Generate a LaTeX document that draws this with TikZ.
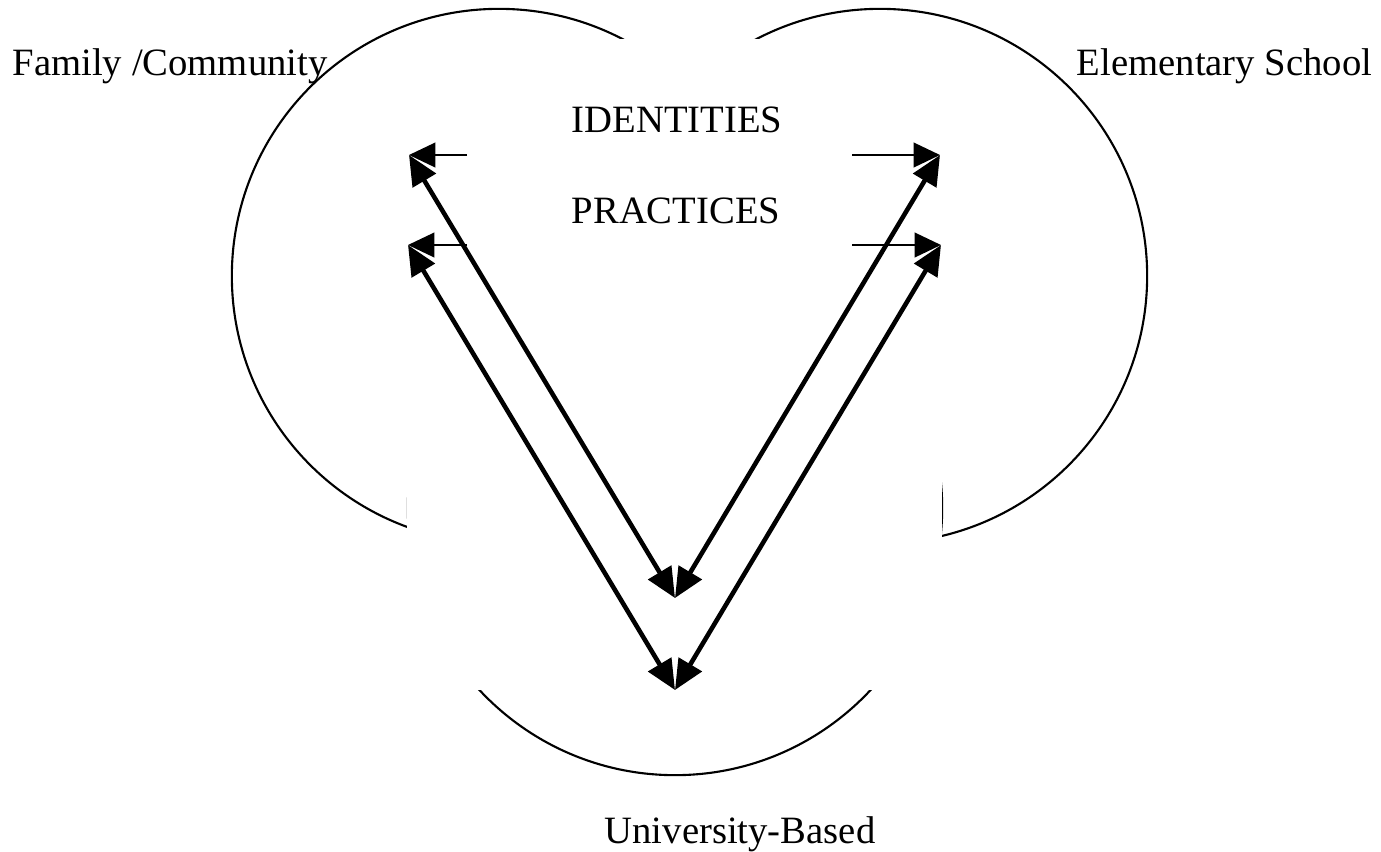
\documentclass[tikz,border=0pt]{standalone}
\usepackage{fontspec}
\setmainfont{Liberation Serif}
\usetikzlibrary{arrows.meta}

\begin{document}
\begin{tikzpicture}[x=0.01cm,y=-0.01cm,
	ring/.style={draw,line width=0.6pt},
	link/.style={line width=1.3pt,{Triangle[length=8.5pt,width=7.5pt]}-{Triangle[length=8.5pt,width=7.5pt]}},
	pointer/.style={line width=0.6pt,-{Triangle[length=7.5pt,width=7pt]}},
	txt/.style={inner sep=0pt,font=\fontsize{11}{13}\selectfont}]
			\useasboundingbox (0,0) rectangle (1381,851);
			% the three settings
			\path[ring] (499,276) circle[radius=2.67cm];
			\path[ring] (880,276) circle[radius=2.67cm];
			\path[ring] (675,508) circle[radius=2.67cm];
			\fill[white] (407,39) rectangle (942,690);
			% labels
			\node[txt,anchor=base west] (fam) at (12,75) {Family /Community};
			\node[txt,anchor=base east] (sch) at (1373,75) {Elementary School};
			\node[txt,anchor=base] (uni) at (740,843) {University-Based};
			\node[txt,anchor=base] (ident) at (677,132) {IDENTITIES};
			\node[txt,anchor=base] (pract) at (676,223) {PRACTICES};
			% arrow ends
			\coordinate (famI) at (409,155);
			\coordinate (famP) at (408,245);
			\coordinate (schI) at (940,155);
			\coordinate (schP) at (941,245);
			\coordinate (uniI) at (675,598);
			\coordinate (uniP) at (675,690);
			\coordinate (famIs) at (467,155);
			\coordinate (famPs) at (467,245);
			\coordinate (schIs) at (852,155);
			\coordinate (schPs) at (852,245);
			\path
			(famIs) edge[pointer] (famI)
			(famPs) edge[pointer] (famP)
			(schIs) edge[pointer] (schI)
			(schPs) edge[pointer] (schP);
			\path
			(famI) edge[link] (uniI)
			(schI) edge[link] (uniI)
			(famP) edge[link] (uniP)
			(schP) edge[link] (uniP);
		\end{tikzpicture}
\end{document}
